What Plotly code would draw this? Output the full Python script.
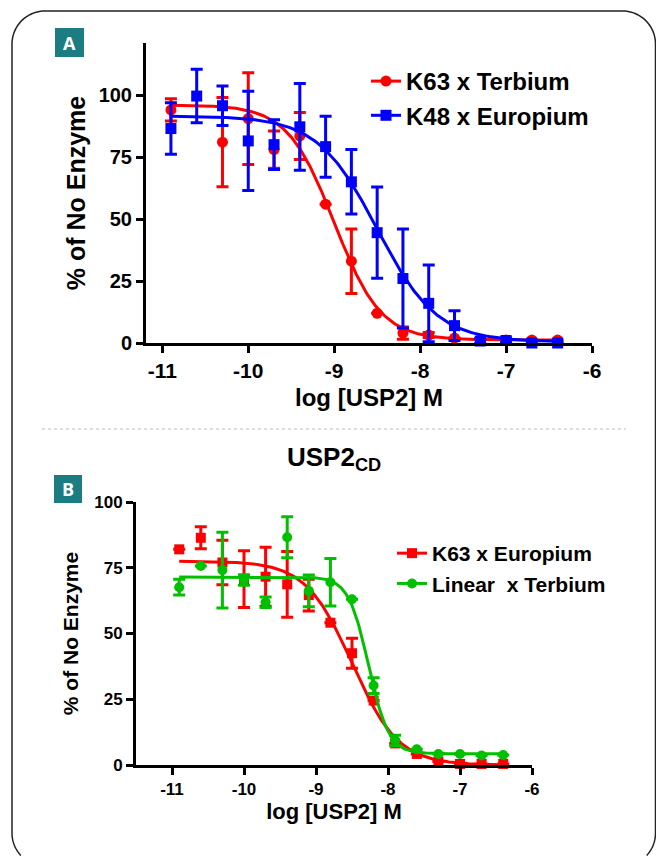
import numpy as np
import plotly.graph_objects as go

W, H = 656, 856

# ---------------- Panel A data ----------------
a_k63_x = [-10.9, -10.3, -10.0, -9.7, -9.4, -9.1, -8.8, -8.5, -8.2, -7.9, -7.6, -7.3, -7.0, -6.7, -6.4]
a_k63_y = [94, 81, 90.5, 78, 83.5, 56, 33, 12, 4, 3.2, 2, 1.4, 1.2, 1.2, 1.2]
a_k63_err = [4.5, 18, 18.5, 7.5, 9.5, 0, 13, 0, 2.5, 1, 0, 0, 0, 0, 0]

a_k48_x = [-10.9, -10.6, -10.3, -10.0, -9.7, -9.4, -9.1, -8.8, -8.5, -8.2, -7.9, -7.6, -7.3, -7.0, -6.7, -6.4]
a_k48_y = [86.5, 99.6, 95.7, 81.5, 80, 87.2, 79.2, 65, 44.5, 26, 16, 7, 0.8, 1, 0, 0]
a_k48_err = [10.4, 10.8, 8, 20, 10, 17.5, 12.3, 13, 18.4, 20, 15.5, 6, 1, 1, 0, 0]

# fitted 4PL parameters: top, bottom, logIC50, hill
a_k63_fit = [96, 1.2, -9.0, 1.6]
a_k48_fit = [91.5, 0.5, -8.5, 1.25]

# ---------------- Panel B data ----------------
b_x = [-10.9, -10.6, -10.3, -10.0, -9.7, -9.4, -9.1, -8.8, -8.5, -8.2, -7.9, -7.6, -7.3, -7.0, -6.7, -6.4]
b_k63_y = [82, 86.4, 77, 70.7, 71.6, 68.7, 64.6, 54.1, 42.5, 24.5, 8.2, 4.2, 1.3, 0.4, 0.4, 0.4]
b_k63_err = [0, 4.2, 8.5, 10.8, 11.2, 12.5, 6, 0, 5.7, 0, 0, 0, 0, 0, 0, 0]
b_lin_y = [67.6, 75.7, 74.1, 70.3, 61.9, 86.6, 66.2, 69.5, 63, 30.2, 9.3, 6, 4.2, 4.2, 3.6, 3.8]
b_lin_err = [3, 0, 14.4, 2, 2, 7.8, 6, 9, 0, 3, 2, 0, 0, 0, 0, 0]

b_k63_fit = [77.5, 0.0, -8.5, 1.35]
b_lin_fit = [71.5, 4.3, -8.27, 3.1]

x_ticks = [-11, -10, -9, -8, -7, -6]
y_ticks = [0, 25, 50, 75, 100]

RED = "#ff0000"
BLUE = "#0000ff"
GREEN = "#00c000"
TEAL = "#1b7d82"
FONT = "Liberation Sans, Arial, sans-serif"


def px(xp):
    return xp / W


def py(yp):
    return 1 - yp / H


def fourpl(x, p):
    top, bottom, ic50, hill = p
    x = np.asarray(x)
    return bottom + (top - bottom) / (1 + 10 ** (hill * (x - ic50)))


fig = go.Figure()


def add_series(xs, ys, errs, fit, color, symbol, size, name, xa, ya, legend):
    cx = np.linspace(min(xs), max(xs), 300)
    fig.add_trace(go.Scatter(x=cx, y=fourpl(cx, fit), mode="lines",
                             line=dict(color=color, width=3), showlegend=False,
                             xaxis=xa, yaxis=ya, cliponaxis=False, hoverinfo="skip"))
    fig.add_trace(go.Scatter(x=xs, y=ys, mode="markers",
                             marker=dict(color=color, symbol=symbol, size=size),
                             error_y=dict(type="data", array=errs, color=color, thickness=3, width=6),
                             showlegend=False, xaxis=xa, yaxis=ya, cliponaxis=False))
    fig.add_trace(go.Scatter(x=[None], y=[None], mode="lines+markers", name=name,
                             line=dict(color=color, width=3),
                             marker=dict(color=color, symbol=symbol, size=size),
                             xaxis=xa, yaxis=ya, legend=legend, legendgroup=name))


add_series(a_k63_x, a_k63_y, a_k63_err, a_k63_fit, RED, "circle", 11, "K63 x Terbium", "x", "y", "legend")
add_series(a_k48_x, a_k48_y, a_k48_err, a_k48_fit, BLUE, "square", 11, "K48 x Europium", "x", "y", "legend")
add_series(b_x, b_k63_y, b_k63_err, b_k63_fit, RED, "square", 10, "K63 x Europium", "x2", "y2", "legend2")
add_series(b_x, b_lin_y, b_lin_err, b_lin_fit, GREEN, "circle", 10, "Linear  x Terbium", "x2", "y2", "legend2")

axis_common = dict(showline=True, linecolor="black", linewidth=3, ticks="outside",
                   ticklen=7, tickwidth=3, tickcolor="black", showgrid=False, zeroline=False,
                   automargin=False)

fig.update_layout(
    width=W, height=H, margin=dict(l=0, r=0, t=0, b=0, pad=0, autoexpand=False),
    paper_bgcolor="white", plot_bgcolor="white",
    font=dict(family=FONT, color="black"),
    xaxis=dict(domain=[px(146), px(592)], range=[-11.19, -6], anchor="y",
               tickvals=x_ticks, ticktext=[str(v) for v in x_ticks],
               tickfont=dict(size=21, weight="bold"),
               title=dict(text="log [USP2] M", font=dict(size=24, weight="bold"), standoff=8),
               **axis_common),
    yaxis=dict(domain=[py(343), py(43)], range=[0, 121], anchor="x",
               tickvals=y_ticks, tickfont=dict(size=20, weight="bold"),
               title=dict(text="% of No Enzyme", font=dict(size=25, weight="bold"), standoff=6),
               **axis_common),
    xaxis2=dict(domain=[px(136), px(532)], range=[-11.5, -6], anchor="y2",
                tickvals=x_ticks, ticktext=[str(v) for v in x_ticks],
                tickfont=dict(size=17, weight="bold"),
                title=dict(text="log [USP2] M", font=dict(size=22, weight="bold"), standoff=6),
                **axis_common),
    yaxis2=dict(domain=[py(765), py(502)], range=[0, 100], anchor="x2",
                tickvals=y_ticks, tickfont=dict(size=17, weight="bold"),
                title=dict(text="% of No Enzyme", font=dict(size=21, weight="bold"), standoff=10),
                **axis_common),
    legend=dict(x=px(366), y=py(59), xanchor="left", yanchor="top",
                bgcolor="rgba(0,0,0,0)", font=dict(size=24, weight="bold"),
                traceorder="grouped", tracegroupgap=0, itemwidth=30),
    legend2=dict(x=px(392), y=py(533), xanchor="left", yanchor="top",
                 bgcolor="rgba(0,0,0,0)", font=dict(size=21, weight="bold"),
                 traceorder="grouped", tracegroupgap=0, itemwidth=30),
)


def border_path(x0, y0, x1, y_end, r, y_bottom):
    """Open rounded-card outline kept inside the page (decoration only)."""
    def arc(cx, cy, a0, a1, n=24):
        t = np.linspace(a0, a1, n)
        return [(cx + r * np.cos(a), cy + r * np.sin(a)) for a in t]

    cyb = y_bottom - r
    a_end = np.arcsin(min(1.0, (y_end - cyb) / r))
    pts = []
    pts += arc(x0 + r, cyb, np.pi - a_end, np.pi)
    pts += arc(x0 + r, y0 + r, np.pi, 1.5 * np.pi)
    pts += arc(x1 - r, y0 + r, 1.5 * np.pi, 2 * np.pi)
    pts += arc(x1 - r, cyb, 0, a_end)
    return "M " + " L ".join(f"{px(a)},{py(b)}" for a, b in pts)


shapes = [
    dict(type="path", xref="paper", yref="paper",
         path=border_path(12, 11, 655.5, 855.5, 33, 866),
         line=dict(color="#222222", width=1.5), layer="below"),
    dict(type="line", xref="paper", yref="paper", x0=px(42), x1=px(626), y0=py(429), y1=py(429),
         line=dict(color="#bbbbbb", width=1, dash="dot")),
    dict(type="rect", xref="paper", yref="paper", x0=px(55), x1=px(84), y0=py(57), y1=py(28),
         fillcolor=TEAL, line=dict(width=0)),
    dict(type="rect", xref="paper", yref="paper", x0=px(54), x1=px(82), y0=py(503), y1=py(475),
         fillcolor=TEAL, line=dict(width=0)),
]
fig.update_layout(shapes=shapes)

fig.add_annotation(x=px(69.5), y=py(42.5), xref="paper", yref="paper", text="A", showarrow=False,
                   xanchor="center", yanchor="middle",
                   font=dict(family="Open Sans, sans-serif", size=18, color="white", weight="bold"))
fig.add_annotation(x=px(68), y=py(489), xref="paper", yref="paper", text="B", showarrow=False,
                   xanchor="center", yanchor="middle",
                   font=dict(family="Open Sans, sans-serif", size=18, color="white", weight="bold"))
fig.add_annotation(x=px(334), y=py(458), xref="paper", yref="paper",
                   text="USP2<sub>CD</sub>", showarrow=False,
                   font=dict(family=FONT, size=26, color="black", weight="bold"))

fig.write_html(
    "out.html",
    config={"displayModeBar": False},
    post_script=("document.body.style.margin='0';document.body.style.padding='0';"
                 "document.body.style.overflow='hidden';"
                 "document.documentElement.style.overflow='hidden';"),
)
